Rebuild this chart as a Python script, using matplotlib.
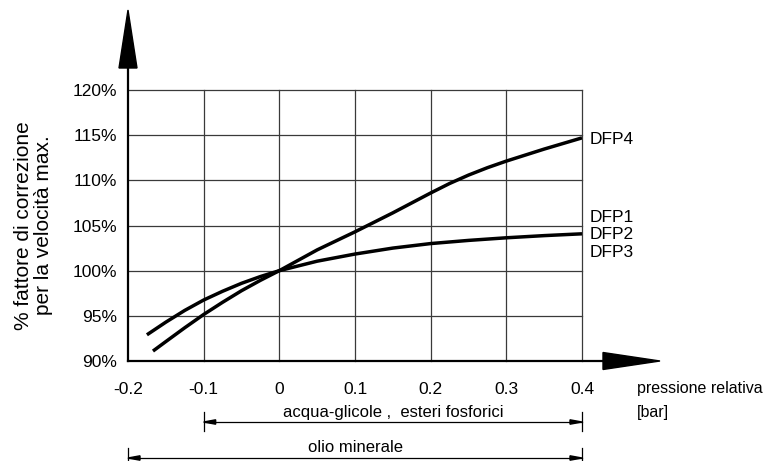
import numpy as np
import matplotlib.pyplot as plt
from matplotlib.patches import Polygon

plt.rcParams['font.family'] = ['Liberation Sans', 'DejaVu Sans']

# curve DFP4 (the steeper one)
x_dfp4 = [-0.167, -0.15, -0.125, -0.1, -0.075, -0.05, -0.025, 0.0, 0.05, 0.1,
          0.15, 0.2, 0.225, 0.25, 0.275, 0.3, 0.35, 0.4]
y_dfp4 = [91.1, 92.15, 93.68, 95.15, 96.5, 97.78, 98.93, 100.0, 102.3, 104.3,
          106.4, 108.6, 109.65, 110.58, 111.4, 112.13, 113.46, 114.7]

# curve DFP1 / DFP2 / DFP3
x_dfp123 = [-0.175, -0.15, -0.125, -0.1, -0.075, -0.05, -0.025, 0.0, 0.05, 0.1,
            0.15, 0.2, 0.25, 0.3, 0.35, 0.4]
y_dfp123 = [92.9, 94.3, 95.6, 96.75, 97.72, 98.6, 99.35, 100.0, 101.05, 101.84,
            102.5, 103.0, 103.35, 103.64, 103.88, 104.08]

x_ticks = [-0.2, -0.1, 0, 0.1, 0.2, 0.3, 0.4]
x_ticklabels = ['-0.2', '-0.1', '0', '0.1', '0.2', '0.3', '0.4']
y_ticks = [90, 95, 100, 105, 110, 115, 120]
y_ticklabels = ['90%', '95%', '100%', '105%', '110%', '115%', '120%']

# fluid ranges (dimension lines under the axis)
range_acqua = (-0.1, 0.4)
range_olio = (-0.2, 0.4)

W, H = 779, 461
fig = plt.figure(figsize=(W / 100, H / 100), dpi=100)
ax = fig.add_axes([128 / W, 100 / H, 454 / W, 271 / H])

xmin, xmax = -0.2, 0.4
ymin, ymax = 90, 120
ax.set_xlim(xmin, xmax)
ax.set_ylim(ymin, ymax)

# pixel -> data scale
px_x = (xmax - xmin) / 454
px_y = (ymax - ymin) / 271

# grid
for xv in x_ticks[1:]:
    ax.plot([xv, xv], [ymin, ymax], color='#3a3a3a', lw=0.9, zorder=1, clip_on=False)
for yv in y_ticks[1:]:
    ax.plot([xmin, xmax], [yv, yv], color='#3a3a3a', lw=0.9, zorder=1, clip_on=False)

# curves
ax.plot(x_dfp4, y_dfp4, color='black', lw=2.5, zorder=3, solid_capstyle='butt',
        solid_joinstyle='round')
ax.plot(x_dfp123, y_dfp123, color='black', lw=2.5, zorder=3, solid_capstyle='butt',
        solid_joinstyle='round')

for side in ['top', 'right', 'left', 'bottom']:
    ax.spines[side].set_visible(False)

# y axis with arrow
y_top = ymax + 22 * px_y
ax.plot([xmin, xmin], [ymin, y_top], color='black', lw=1.6, clip_on=False, zorder=4)
ax.add_patch(Polygon([[xmin - 9 * px_x, y_top], [xmin + 9 * px_x, y_top],
                      [xmin, y_top + 58 * px_y]], closed=True, color='black',
                     clip_on=False, zorder=4))
# x axis with arrow
x_end = xmax + 21 * px_x
ax.plot([xmin, x_end], [ymin, ymin], color='black', lw=1.6, clip_on=False, zorder=4)
ax.add_patch(Polygon([[x_end, ymin - 8.5 * px_y], [x_end, ymin + 8.5 * px_y],
                      [x_end + 57 * px_x, ymin]], closed=True, color='black',
                     clip_on=False, zorder=4))

ax.set_xticks(x_ticks)
ax.set_xticklabels(x_ticklabels)
ax.set_yticks(y_ticks)
ax.set_yticklabels(y_ticklabels)
ax.tick_params(axis='x', length=0, pad=15, labelsize=12.5)
ax.tick_params(axis='y', length=0, pad=8, labelsize=12.5)

ax.set_ylabel('% fattore di correzione\nper la velocità max.', fontsize=15,
              linespacing=1.05, labelpad=14)

# curve labels
ax.text(xmax + 8 * px_x, 114.5, 'DFP4', fontsize=12.5, va='center', ha='left', clip_on=False)
ax.text(xmax + 8 * px_x, 105.9, 'DFP1', fontsize=12.5, va='center', ha='left', clip_on=False)
ax.text(xmax + 8 * px_x, 104.0, 'DFP2', fontsize=12.5, va='center', ha='left', clip_on=False)
ax.text(xmax + 8 * px_x, 102.0, 'DFP3', fontsize=12.5, va='center', ha='left', clip_on=False)

# axis title at the right
ax.text(xmax + 55 * px_x, ymin - 27 * px_y, 'pressione relativa', fontsize=11.5,
        va='center', ha='left', clip_on=False)
ax.text(xmax + 55 * px_x, ymin - 51 * px_y, '[bar]', fontsize=11.5,
        va='center', ha='left', clip_on=False)


def dimension(x0, x1, y, label, ytext):
    ax.plot([x0, x1], [y, y], color='black', lw=0.9, clip_on=False)
    for xe, d in [(x0, 1), (x1, -1)]:
        ax.plot([xe, xe], [y + 10 * px_y, y - 9 * px_y], color='black', lw=0.9, clip_on=False)
        ax.add_patch(Polygon([[xe, y], [xe + d * 12 * px_x, y + 2.2 * px_y],
                              [xe + d * 12 * px_x, y - 2.2 * px_y]], closed=True,
                             color='black', clip_on=False))
    ax.text((x0 + x1) / 2, ytext, label, fontsize=12, ha='center', va='center', clip_on=False)


dimension(range_acqua[0], range_acqua[1], ymin - 61 * px_y,
          'acqua-glicole ,  esteri fosforici', ymin - 51 * px_y)
dimension(range_olio[0], range_olio[1], ymin - 97 * px_y,
          'olio minerale', ymin - 86 * px_y)

plt.savefig('out.png', dpi=100)
